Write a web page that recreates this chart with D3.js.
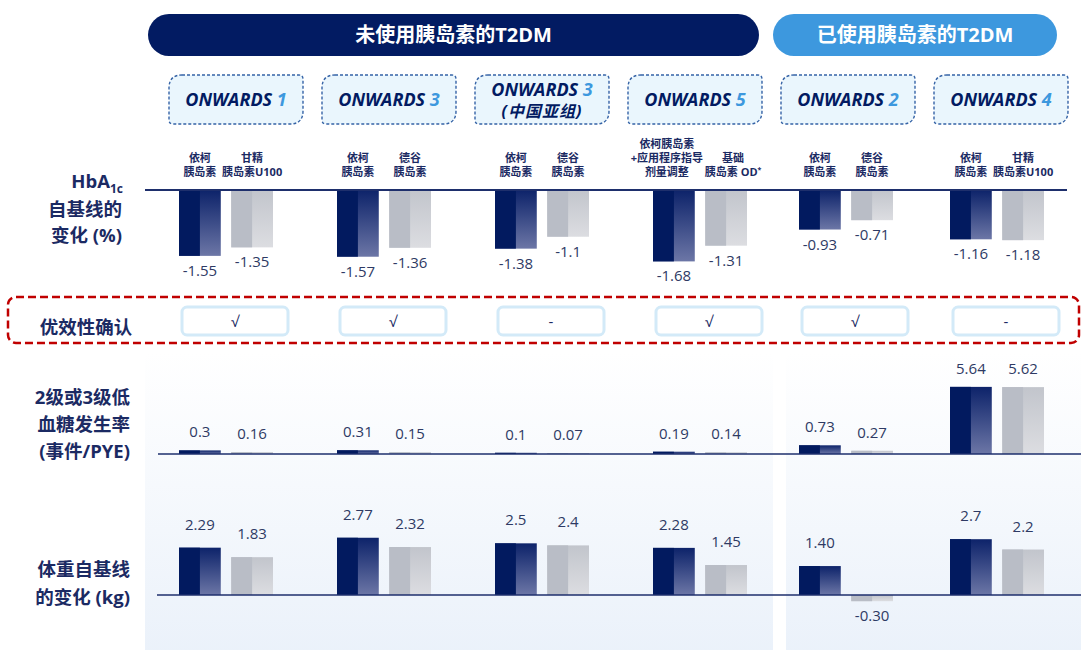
<!DOCTYPE html>
<html lang="zh">
<head>
<meta charset="utf-8">
<title>ONWARDS 1-5</title>
<script src="https://cdn.jsdelivr.net/npm/d3@7"></script>
<style>
  body { margin: 0; background: #fff; }
  text { font-family: "Open Sans", "Noto Sans CJK SC", sans-serif; }
</style>
</head>
<body>
<script>
// Trials and arms
var trials = ["ONWARDS 1", "ONWARDS 3", "ONWARDS 3 CN", "ONWARDS 5", "ONWARDS 2", "ONWARDS 4"];
var insulinNaive = ["ONWARDS 1", "ONWARDS 3", "ONWARDS 3 CN", "ONWARDS 5"];
var insulinTreated = ["ONWARDS 2", "ONWARDS 4"];
var trialNums = ["1", "3", "3", "5", "2", "4"];
var trialSubs = ["", "", "(中国亚组)", "", "", ""];
var armIcodec = [["依柯", "胰岛素"], ["依柯", "胰岛素"], ["依柯", "胰岛素"],
                 ["依柯胰岛素", "+应用程序指导", "剂量调整"], ["依柯", "胰岛素"], ["依柯", "胰岛素"]];
var armComparator = [["甘精", "胰岛素U100"], ["德谷", "胰岛素"], ["德谷", "胰岛素"],
                     ["基础", "胰岛素 OD*"], ["德谷", "胰岛素"], ["甘精", "胰岛素U100"]];

// Values (kept as printed)
var hba1cIcodec = ["-1.55", "-1.57", "-1.38", "-1.68", "-0.93", "-1.16"];
var hba1cComparator = ["-1.35", "-1.36", "-1.1", "-1.31", "-0.71", "-1.18"];
var superiority = ["√", "√", "-", "√", "√", "-"];
var hypoIcodec = ["0.3", "0.31", "0.1", "0.19", "0.73", "5.64"];
var hypoComparator = ["0.16", "0.15", "0.07", "0.14", "0.27", "5.62"];
var weightIcodec = ["2.29", "2.77", "2.5", "2.28", "1.40", "2.7"];
var weightComparator = ["1.83", "2.32", "2.4", "1.45", "-0.30", "2.2"];

var w = 1081, h = 650;
var navy = "#021B62", blue = "#3D98DE", textNavy = "#1B2A63", valColor = "#2E3A64";

var svg = d3.select("body").append("svg").attr("width", w).attr("height", h);
var defs = svg.append("defs");

function grad(id, c0, c1) {
    var g = defs.append("linearGradient").attr("id", id)
        .attr("x1", 0).attr("y1", 0).attr("x2", 0).attr("y2", 1);
    g.append("stop").attr("offset", "0%").attr("stop-color", c0);
    g.append("stop").attr("offset", "100%").attr("stop-color", c1);
}
grad("gDark", "#0D236A", "#6C76A6");
grad("gGrey", "#C2C5CC", "#DCDDE1");
grad("gPanel", "#FFFFFF", "#EAF1FA");

// Scales: trial boxes evenly spaced, bar groups per section
var x = d3.scalePoint().domain(trials).range([236, 1001]);
var xNaive = d3.scalePoint().domain(insulinNaive).range([226, 700]);
var xTreated = d3.scalePoint().domain(insulinTreated).range([846, 997]);
function xb(t) { return insulinNaive.indexOf(t) >= 0 ? xNaive(t) : xTreated(t); }
var x1 = d3.scaleBand().domain([0, 1]).range([-47, 47]).paddingInner(0.2);
var yHba = d3.scaleLinear().domain([0, -2]).range([190, 275]);
var yHypo = d3.scaleLinear().domain([0, 6]).range([454, 382.6]);
var yWeight = d3.scaleLinear().domain([0, 3]).range([595, 533]);

// Background panels
svg.append("rect").attr("x", 145).attr("y", 352).attr("width", 628).attr("height", 310)
    .attr("rx", 6).attr("fill", "url(#gPanel)");
svg.append("rect").attr("x", 786).attr("y", 352).attr("width", 310).attr("height", 310)
    .attr("rx", 8).attr("fill", "url(#gPanel)");

// Section headers
var sections = [
    {label: "未使用胰岛素的T2DM", x0: xNaive(insulinNaive[0]) - 78, x1: xNaive(insulinNaive[3]) + 59, color: navy},
    {label: "已使用胰岛素的T2DM", x0: xTreated(insulinTreated[0]) - 73, x1: xTreated(insulinTreated[1]) + 60, color: blue}
];
svg.selectAll("rect.sec").data(sections).enter().append("rect")
    .attr("class", "sec")
    .attr("x", function(d){ return d.x0; })
    .attr("y", 14)
    .attr("width", function(d){ return d.x1 - d.x0; })
    .attr("height", 42)
    .attr("rx", 21)
    .attr("fill", function(d){ return d.color; });
svg.selectAll("text.sec").data(sections).enter().append("text")
    .attr("class", "sec")
    .attr("x", function(d){ return (d.x0 + d.x1) / 2; })
    .attr("y", 42)
    .attr("text-anchor", "middle")
    .attr("fill", "#fff")
    .attr("font-size", 20)
    .attr("font-weight", "bold")
    .text(function(d){ return d.label; });

// Trial boxes: big radius top-left and bottom-right
function trialBox(bx, by, bw, bh) {
    var r = 13, s = 4;
    return "M" + (bx + r) + "," + by +
        " H" + (bx + bw - s) + " Q" + (bx + bw) + "," + by + " " + (bx + bw) + "," + (by + s) +
        " V" + (by + bh - r) + " Q" + (bx + bw) + "," + (by + bh) + " " + (bx + bw - r) + "," + (by + bh) +
        " H" + (bx + s) + " Q" + bx + "," + (by + bh) + " " + bx + "," + (by + bh - s) +
        " V" + (by + r) + " Q" + bx + "," + by + " " + (bx + r) + "," + by + " Z";
}
var boxes = svg.selectAll("g.trial").data(trials).enter().append("g")
    .attr("class", "trial")
    .attr("transform", function(d){ return "translate(" + x(d) + ",0)"; });
boxes.append("path")
    .attr("d", trialBox(-67, 75, 134, 49))
    .attr("fill", "#EAF6FD")
    .attr("stroke", "#3563A6")
    .attr("stroke-width", 1.4)
    .attr("stroke-dasharray", "3,2");
var tt = boxes.append("text")
    .attr("text-anchor", "middle")
    .attr("y", function(d, i){ return trialSubs[i] ? 96 : 106; })
    .attr("font-size", 18)
    .attr("font-weight", "bold")
    .attr("font-style", "italic")
    .attr("fill", navy);
tt.append("tspan").text("ONWARDS ");
tt.append("tspan").attr("fill", blue).text(function(d, i){ return trialNums[i]; });
boxes.filter(function(d, i){ return trialSubs[i]; }).append("text")
    .attr("text-anchor", "middle")
    .attr("y", 117)
    .attr("font-size", 16)
    .attr("font-weight", "bold")
    .attr("font-style", "italic")
    .attr("fill", navy)
    .attr("letter-spacing", 1)
    .text(function(d){ return trialSubs[trials.indexOf(d)]; });

// Arm labels above HbA1c bars
function armLabel(lines, cx) {
    var t = svg.append("text").attr("text-anchor", "middle")
        .attr("font-size", 11).attr("font-weight", "bold").attr("fill", textNavy);
    lines.forEach(function(line, k){
        var yy = 176 - (lines.length - 1 - k) * 14;
        var ts = t.append("tspan").attr("x", cx).attr("y", yy);
        if (line.slice(-1) === "*") {
            ts.text(line.slice(0, -1));
            ts.append("tspan").attr("font-size", 7).attr("dy", -4).text("*");
        } else {
            ts.text(line);
        }
    });
}
trials.forEach(function(t, i){
    // a long three-line label pushes the pair apart a little
    var nudge = armIcodec[i].length > 2 ? 7 : 0;
    armLabel(armIcodec[i], xb(t) + x1(0) + x1.bandwidth() / 2 - nudge);
    armLabel(armComparator[i], xb(t) + x1(1) + x1.bandwidth() / 2 + nudge);
});

// Bars rows
function drawRow(icodec, comp, y, cls, labelUp) {
    var rows = [];
    trials.forEach(function(t, i){
        rows.push({t: t, arm: 0, label: icodec[i], v: +icodec[i]});
        rows.push({t: t, arm: 1, label: comp[i], v: +comp[i]});
    });
    var g = svg.append("g").attr("class", cls);
    var bw = x1.bandwidth();
    var bars = g.selectAll("g.bar").data(rows).enter().append("g").attr("class", "bar")
        .attr("transform", function(d){ return "translate(" + (xb(d.t) + x1(d.arm)) + ",0)"; });
    bars.append("rect")
        .attr("x", 0)
        .attr("y", function(d){ return Math.min(y(d.v), y(0)); })
        .attr("width", bw)
        .attr("height", function(d){ return Math.abs(y(d.v) - y(0)); })
        .attr("fill", function(d){ return d.arm === 0 ? "url(#gDark)" : "url(#gGrey)"; });
    bars.append("rect")
        .attr("x", 0)
        .attr("y", function(d){ return Math.min(y(d.v), y(0)); })
        .attr("width", bw / 2)
        .attr("height", function(d){ return Math.abs(y(d.v) - y(0)); })
        .attr("fill", function(d){ return d.arm === 0 ? "#021A5F" : "#B9BDC6"; });
    bars.append("text")
        .attr("x", bw / 2)
        .attr("y", function(d){ return d.v < 0 ? y(d.v) + 20 : y(d.v) - labelUp; })
        .attr("text-anchor", "middle")
        .attr("font-size", 15)
        .attr("fill", valColor)
        .text(function(d){ return d.label; });
    return g;
}

drawRow(hba1cIcodec, hba1cComparator, yHba, "hba1c", 14);
svg.append("line").attr("x1", 145).attr("x2", 1067)
    .attr("y1", yHba(0)).attr("y2", yHba(0))
    .attr("stroke", "#1E2F6C").attr("stroke-width", 2);

drawRow(hypoIcodec, hypoComparator, yHypo, "hypo", 13);
svg.append("line").attr("x1", 158).attr("x2", 1081)
    .attr("y1", yHypo(0)).attr("y2", yHypo(0))
    .attr("stroke", "#1E2F6C").attr("stroke-width", 1.6);

drawRow(weightIcodec, weightComparator, yWeight, "weight", 18);
svg.append("line").attr("x1", 157).attr("x2", 1081)
    .attr("y1", yWeight(0)).attr("y2", yWeight(0))
    .attr("stroke", "#1E2F6C").attr("stroke-width", 1.6);

// Superiority row
svg.append("rect").attr("x", 8).attr("y", 297).attr("width", 1071).attr("height", 46)
    .attr("rx", 8).attr("fill", "none")
    .attr("stroke", "#C00000").attr("stroke-width", 2.5).attr("stroke-dasharray", "8,4");
var cells = svg.selectAll("g.cell").data(trials).enter().append("g").attr("class", "cell")
    .attr("transform", function(d){ return "translate(" + (xb(d) + 9) + ",0)"; });
cells.append("rect").attr("x", -53).attr("y", 307).attr("width", 106).attr("height", 28)
    .attr("rx", 5).attr("fill", "#fff").attr("stroke", "#D3EAF8").attr("stroke-width", 3);
cells.append("text").attr("y", 327).attr("text-anchor", "middle")
    .attr("font-size", 15).attr("fill", textNavy)
    .text(function(d, i){ return superiority[i]; });

// Left row labels
function rowLabel(lines, rx, y0, step) {
    var t = svg.append("text").attr("text-anchor", "end")
        .attr("font-size", 18.5).attr("font-weight", "bold").attr("fill", textNavy);
    lines.forEach(function(line, k){
        t.append("tspan").attr("x", rx).attr("y", y0 + k * step).text(line);
    });
    return t;
}
var hb = svg.append("text").attr("text-anchor", "end").attr("x", 123).attr("y", 188)
    .attr("font-size", 18.5).attr("font-weight", "bold").attr("fill", textNavy);
hb.append("tspan").text("HbA");
hb.append("tspan").attr("font-size", 12).attr("dy", 5).text("1c");
rowLabel(["自基线的", "变化 (%)"], 122, 216, 26);
svg.append("text").attr("x", 86).attr("y", 334).attr("text-anchor", "middle")
    .attr("font-size", 18.5).attr("font-weight", "bold").attr("fill", textNavy).text("优效性确认");
rowLabel(["2级或3级低", "血糖发生率", "(事件/PYE)"], 130, 404, 27);
rowLabel(["体重自基线", "的变化 (kg)"], 130, 576, 27.5);
</script>
</body>
</html>
